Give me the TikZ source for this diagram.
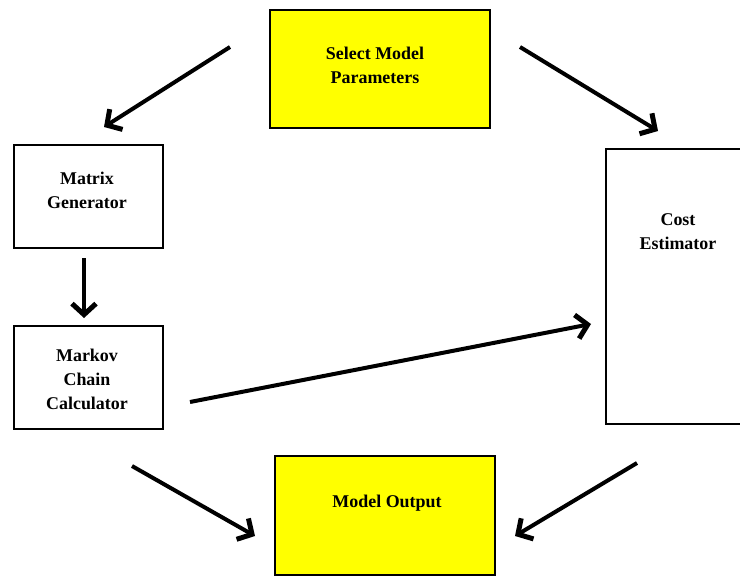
\documentclass[tikz,border=0pt]{standalone}
\usepackage{fontspec}
\setmainfont{Liberation Serif}
\usetikzlibrary{arrows.meta}
\definecolor{boxyellow}{RGB}{255,255,0}
\begin{document}
\begin{tikzpicture}[x=1bp,y=-1bp,
  box/.style={draw=black, line width=2bp, inner sep=0pt, anchor=north west},
  ybox/.style={box, fill=boxyellow},
  lbl/.style={font=\fontsize{18}{24}\selectfont\bfseries, align=center, inner sep=0pt},
  arr/.style={line width=4bp, -{Straight Barb[length=11bp, width=24bp, line width=5bp]}}]
\useasboundingbox (0,0) rectangle (740,577);
\begin{scope}
\clip (0,0) rectangle (740,577);
\node[ybox, minimum width=220bp, minimum height=118bp] (sel) at (269,9) {};
\node[box, minimum width=149bp, minimum height=103bp] (mat) at (13,144) {};
\node[box, minimum width=149bp, minimum height=103bp] (mkv) at (13,325) {};
\node[box, minimum width=160bp, minimum height=275bp] (cost) at (605,148) {};
\node[ybox, minimum width=220bp, minimum height=119bp] (out) at (274,455) {};
\end{scope}
\node[lbl] (tsel) at (375,65) {Select Model\\Parameters};
\node[lbl] (tmat) at (87,190) {Matrix\\Generator};
\node[lbl] (tmkv) at (87,379) {Markov\\Chain\\Calculator};
\node[lbl] (tcost) at (678,232) {Cost\\Estimator};
\node[lbl] (tout) at (387,503) {Model Output};
\coordinate (a1s) at (230,47); \coordinate (a1e) at (104,127);
\coordinate (a2s) at (520,47); \coordinate (a2e) at (658,131);
\coordinate (a3s) at (84,258); \coordinate (a3e) at (84,318);
\coordinate (a4s) at (190,402); \coordinate (a4e) at (591,324);
\coordinate (a5s) at (132,466); \coordinate (a5e) at (255,536);
\coordinate (a6s) at (637,463); \coordinate (a6e) at (515,536);
\draw[arr] (a1s) -- (a1e);
\draw[arr] (a2s) -- (a2e);
\draw[arr] (a3s) -- (a3e);
\draw[arr] (a4s) -- (a4e);
\draw[arr] (a5s) -- (a5e);
\draw[arr] (a6s) -- (a6e);
\end{tikzpicture}
\end{document}
